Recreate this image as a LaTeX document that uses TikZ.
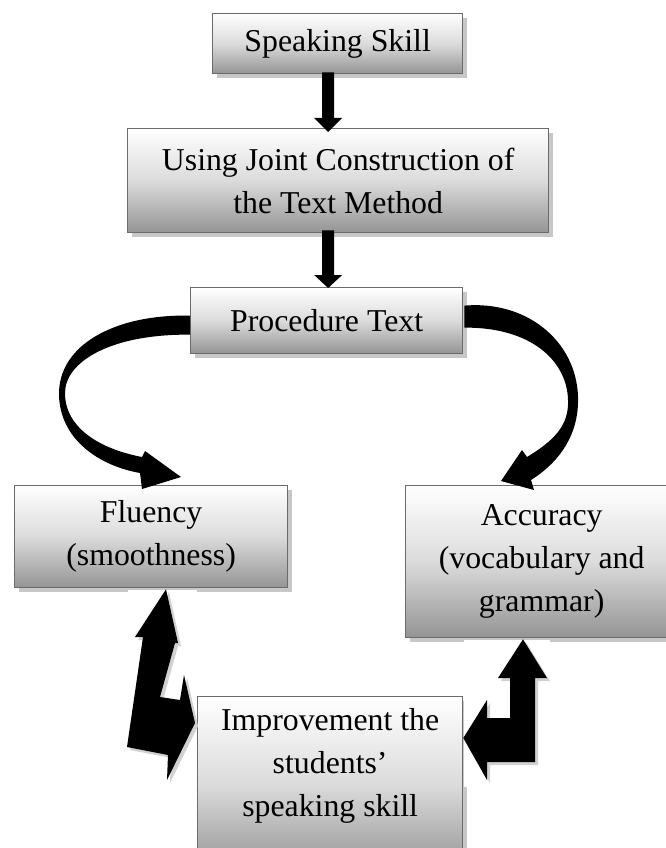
\documentclass[tikz,border=0pt]{standalone}
\usepackage{fontspec}
\setmainfont{Liberation Serif}
\usetikzlibrary{calc,shadows}
\begin{document}
\begin{tikzpicture}[x=1pt,y=-1pt,
  box/.style={draw=black!58, line width=1.3pt, top color=white, bottom color=black!42,
    middle color=black!14, align=center, font=\fontsize{31.8}{43}\selectfont,
    inner sep=0pt, anchor=north west,
    drop shadow={shadow xshift=4pt, shadow yshift=-4pt, fill=black!22, opacity=1}},
  blk/.style={fill=black},
  glow/.style={fill=black, drop shadow={shadow xshift=3pt, shadow yshift=-3pt, fill=black!18, opacity=1}},
  cover/.style={fill=white}]
\useasboundingbox (0,0) rectangle (666,848);
\clip (0,0) rectangle (666,848);

% boxes
\node[box, minimum width=250pt, minimum height=60pt] (ss) at (212,13) {Speaking Skill};
\node[box, minimum width=421pt, minimum height=104pt] (ujc) at (127,128) {Using Joint Construction of\\the Text Method};
\node[box, minimum width=272pt, minimum height=66pt] (pt) at (190,287) {Procedure Text};
\node[box, minimum width=273pt, minimum height=102pt] (flu) at (14,485) {Fluency\\(smoothness)};
\node[box, minimum width=272pt, minimum height=152pt] (acc) at (405,485) {Accuracy\\(vocabulary and\\grammar)};
\node[box, minimum width=265pt, inner ysep=11.5pt, text depth=44pt] (imp) at (197,696) {Improvement the\\students’\\speaking skill};

% straight arrows
\coordinate (a1s) at ($(ss.south)+(-9.5,-2)$);
\coordinate (a1e) at ($(ujc.north)+(-10,4)$);
\fill[blk] ($(a1s)+(-6,0)$) -- ($(a1s)+(6,0)$) -- ($(a1e)+(6,-14)$) -- ($(a1e)+(14,-14)$)
  -- (a1e) -- ($(a1e)+(-14,-14)$) -- ($(a1e)+(-6,-14)$) -- cycle;
\coordinate (a2s) at ($(ujc.south)+(-10,-3)$);
\coordinate (a2e) at ($(pt.north)+(1.5,1)$);
\fill[blk] ($(a2s)+(-6,0)$) -- ($(a2s)+(6,0)$) -- ($(a2e)+(6,-13)$) -- ($(a2e)+(14,-13)$)
  -- (a2e) -- ($(a2e)+(-14,-13)$) -- ($(a2e)+(-6,-13)$) -- cycle;

% curved arrow: Procedure Text -> Fluency
\coordinate (l1) at ($(pt.west)+(0,-5)$);
\coordinate (l2) at ($(pt.west)+(0,14)$);
\coordinate (lt) at ($(flu.north west)+(167,-8)$);
\fill[blk] (l1) .. controls (115,314) and (58,345) .. (59,395)
  .. controls (60,440) and (100,466) .. (140,473)
  -- (142,489) -- (lt) -- (145,451) -- (142,457)
  .. controls (100,449) and (65,428) .. (65,393)
  .. controls (65,362) and (110,334) .. (l2) -- cycle;

% curved arrow: Procedure Text -> Accuracy
\coordinate (r1) at ($(pt.east)+(1,-15)$);
\coordinate (r2) at ($(pt.east)+(1,7)$);
\coordinate (rt) at ($(acc.north west)+(96,-4)$);
\fill[blk] (r1) .. controls (530,300) and (580,345) .. (578,403)
  .. controls (577,440) and (555,465) .. (531,480)
  -- (534,490) -- (rt) -- (522,450) -- (527,457)
  .. controls (555,440) and (569,425) .. (568,400)
  .. controls (567,360) and (530,327) .. (r2) -- cycle;

% white grounds behind the bent arrows
\fill[cover] (128,590) rectangle (197,787);
\fill[cover] (463.5,640) rectangle (550,787);

% bent arrow: Improvement -> Fluency (two heads)
\coordinate (bu) at ($(flu.south west)+(152,1)$);
\coordinate (br) at ($(imp.north west)+(-2,27)$);
\fill[glow] (bu) -- (178,643) -- (175,643) -- (160,697) -- (180,700) -- (184,675)
  -- (br) -- (167,780) -- (168,755) -- (127,747) -- (143,637) -- (135,637) -- cycle;

% bent arrow: Improvement -> Accuracy (two heads)
\coordinate (cu) at ($(acc.south west)+(118,1)$);
\coordinate (cl) at ($(imp.north east)+(0,42)$);
\fill[glow] (cu) -- (547,678) -- (535,678) -- (535,762) -- (487,762) -- (487,780)
  -- (cl) -- (487,700) -- (487,718) -- (510,718) -- (510,678) -- (498,678) -- cycle;
\end{tikzpicture}
\end{document}
